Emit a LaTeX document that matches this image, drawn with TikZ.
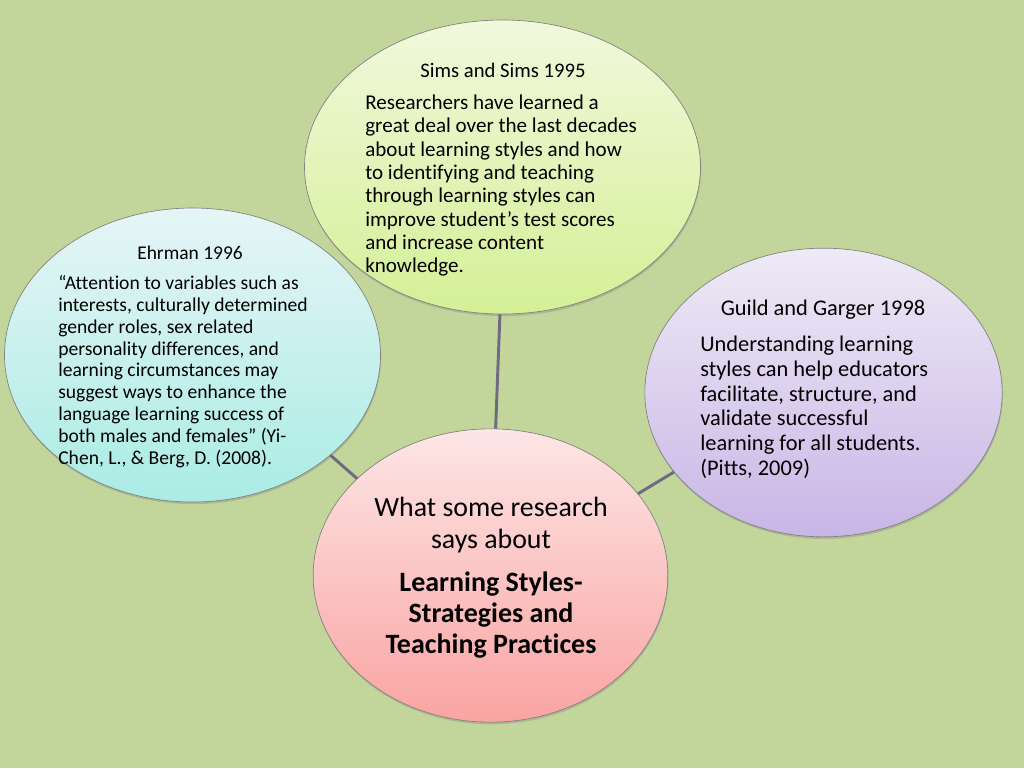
\documentclass[tikz,border=0pt]{standalone}
\usepackage{fontspec}
\setmainfont{Carlito}[Ligatures=NoCommon]
\usetikzlibrary{shapes.geometric,shadows}
\definecolor{bgc}{HTML}{C2D69B}
\definecolor{linkc}{HTML}{6D6A82}
\definecolor{simsT}{HTML}{F1F8DC}
\definecolor{simsB}{HTML}{D4F096}
\definecolor{ehrT}{HTML}{E6F5F6}
\definecolor{ehrB}{HTML}{AAECE5}
\definecolor{guiT}{HTML}{EEEAF6}
\definecolor{guiB}{HTML}{C8B6E6}
\definecolor{ctrT}{HTML}{FDE6E6}
\definecolor{ctrB}{HTML}{F9A4A2}
\tikzset{
  bubble/.style={ellipse, draw=black!50, line width=0.5pt, inner sep=0pt,
    drop shadow={shadow xshift=0.5pt, shadow yshift=-1.6pt, opacity=0.35}},
  link/.style={draw=linkc, line width=2.2pt},
  body/.style={align=left, anchor=north west, inner sep=0pt, text=black},
  hdr/.style={anchor=center, inner sep=0pt, text=black},
}
\begin{document}
\begin{tikzpicture}[x=0.75pt,y=-0.75pt]
\fill[bgc] (0,0) rectangle (1024,768);
\useasboundingbox (0,0) rectangle (1024,768);

% bubbles
\node[bubble, minimum width=297pt, minimum height=220.5pt, top color=simsT, bottom color=simsB] (sims) at (502.5,167) {};
\node[bubble, minimum width=282pt, minimum height=220.5pt, top color=ehrT, bottom color=ehrB] (ehr) at (192.5,355) {};
\node[bubble, minimum width=268pt, minimum height=216.5pt, top color=guiT, bottom color=guiB] (gui) at (823.5,392.5) {};
\node[bubble, minimum width=266pt, minimum height=220pt, top color=ctrT, bottom color=ctrB] (ctr) at (490.5,575.5) {};

% connectors
\draw[link] (sims.-91.6) -- (ctr.88.2);
\draw[link] (ehr.-36.8) -- (ctr.144.1);
\draw[link] (gui.208.5) -- (ctr.29.2);

% Sims text
\node[hdr, font=\fontsize{15.5}{17.5}\selectfont] (simsH) at (503,70) {Sims and Sims 1995};
\node[body, font=\fontsize{15.8}{17.5}\selectfont] (simsT) at (365,94.5) {Researchers have learned a\\great deal over the last decades\\about learning styles and how\\to identifying and teaching\\through learning styles can\\improve student’s test scores\\and increase content\\knowledge.};

% Ehrman text
\node[hdr, font=\fontsize{14.6}{16.4}\selectfont] (ehrH) at (190,253) {Ehrman 1996};
\node[body, font=\fontsize{14.7}{16.4}\selectfont] (ehrT) at (58,275) {“Attention to variables such as\\interests, culturally determined\\gender roles, sex related\\personality differences, and\\learning circumstances may\\suggest ways to enhance the\\language learning success of\\both males and females” (Yi-\\Chen, L., \& Berg, D. (2008).};

% Guild text
\node[hdr, font=\fontsize{16.8}{18.5}\selectfont] (guiH) at (823,310) {Guild and Garger 1998};
\node[body, font=\fontsize{16.8}{18.5}\selectfont] (guiT) at (700,336) {Understanding learning\\styles can help educators\\facilitate, structure, and\\validate successful\\learning for all students.\\(Pitts, 2009)};

% Center text
\node[align=center, anchor=north, inner sep=0pt, font=\fontsize{20.9}{24}\selectfont] (ctrA) at (491,497) {What some research\\says about};
\node[align=center, anchor=north, inner sep=0pt, font=\fontsize{21}{23.25}\selectfont\bfseries] (ctrB) at (491,572) {Learning Styles-\\Strategies and\\Teaching Practices};
\end{tikzpicture}
\end{document}
